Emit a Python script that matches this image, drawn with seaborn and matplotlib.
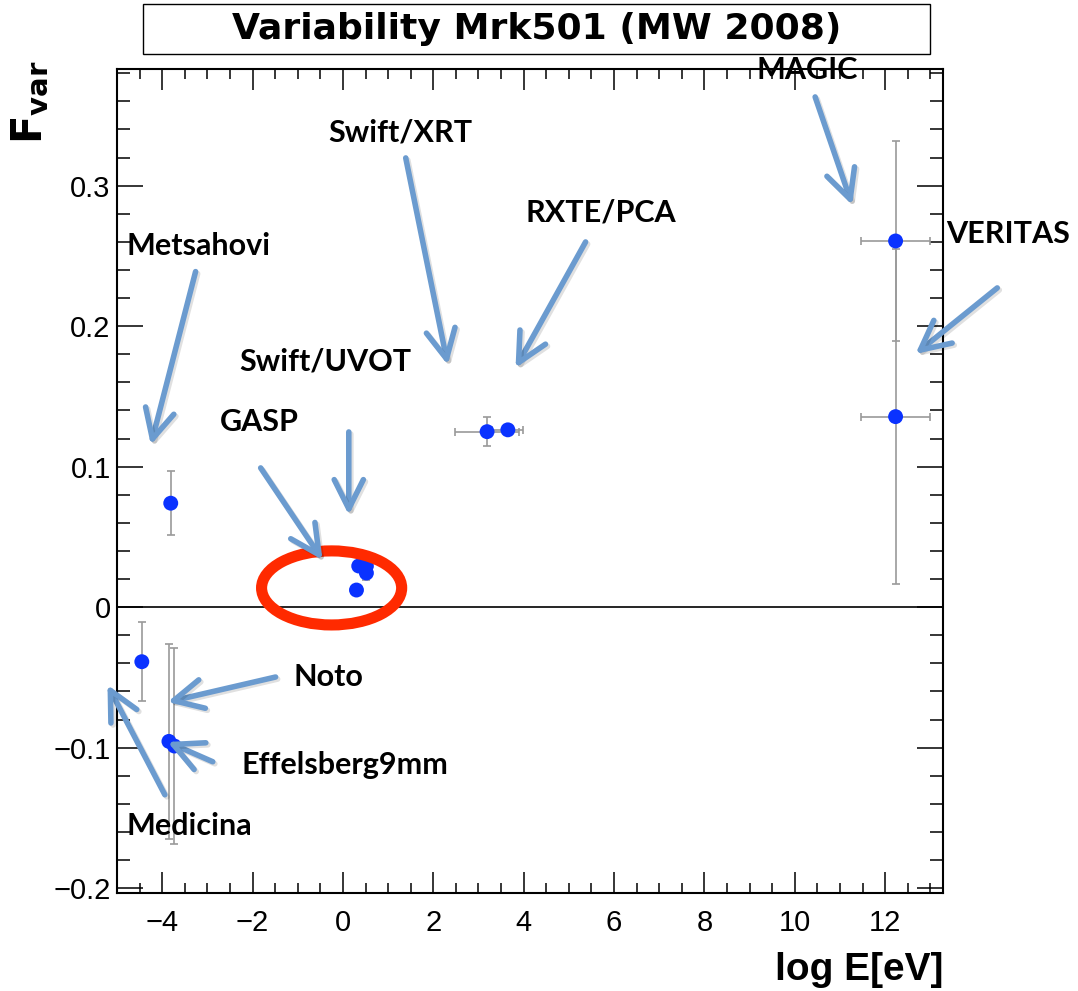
import seaborn as sns
import pandas as pd
import matplotlib.pyplot as plt
import matplotlib.patheffects as pe
from matplotlib.patches import Ellipse, Rectangle
from matplotlib.ticker import MultipleLocator

# Data: log E [eV] vs F_var
instrument = ["Medicina", "Metsahovi", "Effelsberg9mm", "Noto",
              "GASP", "GASP", "Swift/UVOT", "Swift/UVOT",
              "Swift/XRT", "RXTE/PCA", "MAGIC", "VERITAS"]
log_e = [-4.45, -3.81, -3.85, -3.73, 0.30, 0.35, 0.52, 0.52, 3.19, 3.65, 12.23, 12.23]
fvar = [-0.0388, 0.074, -0.0955, -0.0988, 0.0122, 0.0293, 0.0293, 0.0243,
        0.1249, 0.1262, 0.2606, 0.1356]
log_e_err = [0, 0, 0, 0, 0, 0, 0, 0, 0.71, 0.34, 0.76, 0.76]
fvar_err = [0.0283, 0.0226, 0.0693, 0.0698, 0.003, 0.003, 0.003, 0.005,
            0.0101, 0.003, 0.0712, 0.119]

x_ticks = [-4, -2, 0, 2, 4, 6, 8, 10, 12]
y_ticks = [-0.2, -0.1, 0, 0.1, 0.2, 0.3]
y_tick_labels = ["\u22120.2", "\u22120.1", "0", "0.1", "0.2", "0.3"]

# labels: (text, text position, arrow tail, arrow head)
labels = [
    ("Metsahovi", (-3.19, 0.257), (-3.26, 0.2388), (-4.25, 0.1155)),
    ("Swift/XRT", (1.28, 0.3375), (1.39, 0.3197), (2.32, 0.1724)),
    ("RXTE/PCA", (5.70, 0.2806), (5.37, 0.2599), (3.82, 0.1702)),
    ("MAGIC", (10.28, 0.3823), (10.45, 0.3631), (11.27, 0.2862)),
    ("VERITAS", (14.73, 0.2656), (14.48, 0.2272), (12.67, 0.1802)),
    ("Swift/UVOT", (-0.38, 0.1745), (0.13, 0.1247), (0.13, 0.0656)),
    ("GASP", (-1.84, 0.1318), (-1.82, 0.0991), (-0.45, 0.0336)),
    ("Noto", (-0.32, -0.0497), (-1.49, -0.0497), (-3.88, -0.0675)),
    ("Effelsberg9mm", (0.04, -0.1123), (-2.88, -0.110), (-3.88, -0.0959)),
    ("Medicina", (-3.39, -0.1556), (-3.94, -0.1335), (-5.21, -0.0553)),
]

df = pd.DataFrame({"instrument": instrument, "log_e": log_e, "fvar": fvar,
                   "xerr": log_e_err, "yerr": fvar_err})

sns.set_style("ticks")
plt.rcParams['font.family'] = ['Liberation Sans', 'DejaVu Sans']
plt.rcParams['text.color'] = 'black'
plt.rcParams['xtick.color'] = 'black'
plt.rcParams['ytick.color'] = 'black'
plt.rcParams['axes.labelcolor'] = 'black'

fig = plt.figure(figsize=(10.78, 9.91), dpi=100)
ax = fig.add_axes([0.1085, 0.0986, 0.7663, 0.8318])

ax.axhline(0, color="black", lw=1.2, zorder=1)
ax.errorbar(df["log_e"], df["fvar"], xerr=df["xerr"], yerr=df["yerr"],
            fmt="none", ecolor="#9a9a9a", elinewidth=1.2, capsize=3, capthick=1.2, zorder=2)
sns.scatterplot(data=df, x="log_e", y="fvar", ax=ax, color="#0a32ff", s=115,
                edgecolor="none", zorder=3, legend=False)

ax.set_xlim(-5.0, 13.28)
ax.set_ylim(-0.2036, 0.383)
ax.set_xticks(x_ticks)
ax.set_yticks(y_ticks)
ax.set_yticklabels(y_tick_labels)
ax.xaxis.set_minor_locator(MultipleLocator(0.5))
ax.yaxis.set_minor_locator(MultipleLocator(0.02))
ax.set_xlabel("")
ax.set_ylabel("")
for s in ax.spines.values():
    s.set_linewidth(1.5)
    s.set_color("black")
ax.tick_params(axis="both", which="both", direction="in", top=True, right=True,
               width=1.1, color="black", labelsize=21)
ax.tick_params(axis="x", which="major", length=15, pad=11)
ax.tick_params(axis="x", which="minor", length=7.5)
ax.tick_params(axis="y", which="major", length=19, pad=4.5)
ax.tick_params(axis="y", which="minor", length=9.5)

# red ellipse around GASP / Swift-UVOT points
ell = Ellipse((-0.25, 0.0137), 3.1, 0.0527, fill=False, edgecolor="#ff2a00",
              lw=8, zorder=4, clip_on=False)
ax.add_patch(ell)

for text, tpos, tail, head in labels:
    ax.annotate("", xy=head, xytext=tail, annotation_clip=False, zorder=5,
                arrowprops=dict(arrowstyle="->, head_length=1.0, head_width=0.5",
                                color="#6b9bcf", lw=4, shrinkA=0, shrinkB=0,
                                path_effects=[pe.SimpleLineShadow(offset=(1.5, -1.5), alpha=0.12),
                                              pe.Normal()]),
                fontsize=21)
    ax.text(tpos[0], tpos[1], text, ha="center", va="center", fontsize=22,
            fontweight="bold", family=["Lato", "DejaVu Sans"], clip_on=False, zorder=6)

# title box
fig.patches.append(Rectangle((0.1327, 0.9455), 0.730, 0.0505, transform=fig.transFigure,
                             fill=False, edgecolor="black", lw=1.0))
fig.text(0.4977, 0.9707, "Variability Mrk501 (MW 2008)", ha="center", va="center",
         fontsize=26, fontweight="bold", family=["DejaVu Sans"])

fig.text(0.028, 0.897, r"$\mathbf{F_{var}}$", rotation=90, ha="center", va="center",
         fontsize=30)
fig.text(0.8748, 0.021, "log E[eV]", ha="right", va="center", fontsize=28, fontweight="bold")

fig.savefig("out.png", dpi=100)
